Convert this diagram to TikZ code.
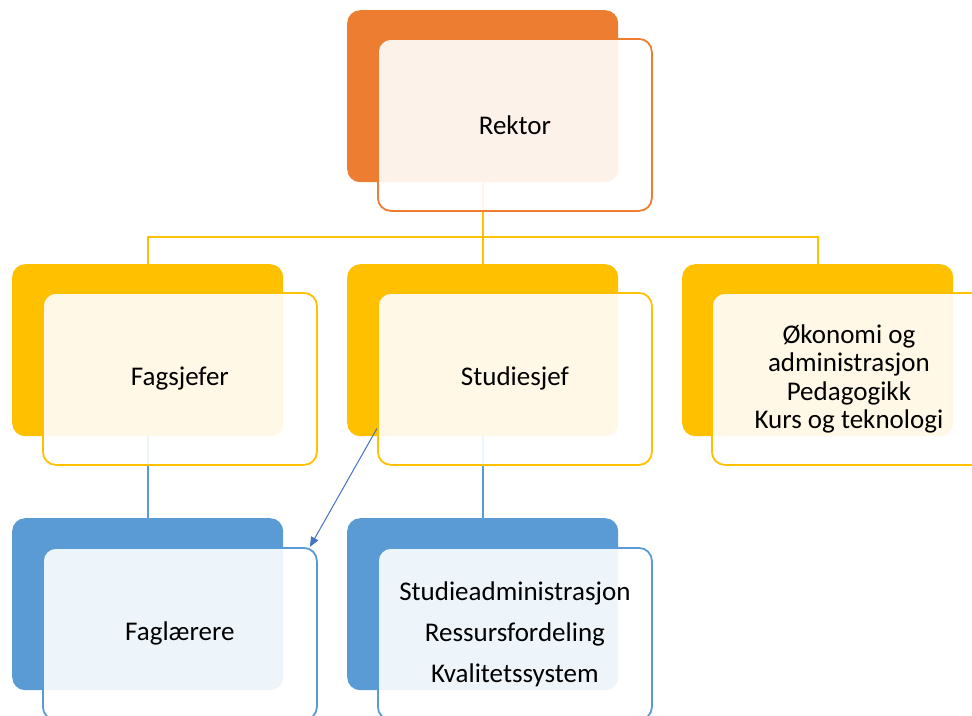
\documentclass[tikz,border=0pt]{standalone}
\usepackage{fontspec}
\setmainfont{Carlito}
\usetikzlibrary{arrows.meta,calc}
\definecolor{cor}{HTML}{ED7D31}
\definecolor{cye}{HTML}{FFC000}
\definecolor{cbl}{HTML}{5B9BD5}
\definecolor{car}{HTML}{4472C4}
\tikzset{
  backbox/.style={draw=none,fill=#1,rounded corners=13pt,minimum width=271pt,minimum height=172pt,inner sep=0pt,anchor=north west},
  frontbox/.style={draw=#1,line width=1.8pt,fill=white,fill opacity=0.9,text opacity=1,rounded corners=13pt,minimum width=274pt,minimum height=172pt,inner sep=0pt,anchor=north west,align=center,font=\fontsize{27}{28.5}\selectfont},
  yline/.style={draw=cye,line width=2pt},
  bline/.style={draw=cbl,line width=1.6pt},
  arr/.style={draw=car,line width=1pt,-{Triangle[length=10pt,width=8pt]}}
}
\begin{document}
\begin{tikzpicture}[x=1pt,y=-1pt]
\useasboundingbox (0,0) rectangle (972,715);
% back boxes
\node[backbox=cor] (rb) at (347,10) {};
\node[backbox=cye] (fb) at (12,264) {};
\node[backbox=cye] (sb) at (347,264) {};
\node[backbox=cye] (ob) at (682,264) {};
\node[backbox=cbl] (lb) at (12,518) {};
\node[backbox=cbl] (ab) at (347,518) {};
% connectors
\coordinate (j) at ($(rb.south)+(0,55)$);
\draw[yline] (rb.south) -- (j);
\draw[yline] (fb.north) |- (j) -| (ob.north);
\draw[yline] (j) -- (sb.north);
\draw[bline] (fb.south) -- (lb.north);
\draw[bline] (sb.south) -- (ab.north);
% front boxes
\node[frontbox=cor] (rf) at (377,38) {Rektor};
\node[frontbox=cye] (ff) at (42,292) {Fagsjefer};
\node[frontbox=cye] (sf) at (377,292) {Studiesjef};
\node[frontbox=cye] (of) at (711,292) {Økonomi og\\administrasjon\\Pedagogikk\\Kurs og teknologi};
\node[frontbox=cbl] (lf) at (42,547) {Faglærere};
\node[frontbox=cbl,font=\fontsize{27}{41}\selectfont] (af) at (377,547) {Studieadministrasjon\\Ressursfordeling\\Kvalitetssystem};
% arrow
\draw[arr] ($(sf.west)!0.57!(sf.south west)$) -- ($(lf.north east)+(-8,0)$);
\end{tikzpicture}
\end{document}
